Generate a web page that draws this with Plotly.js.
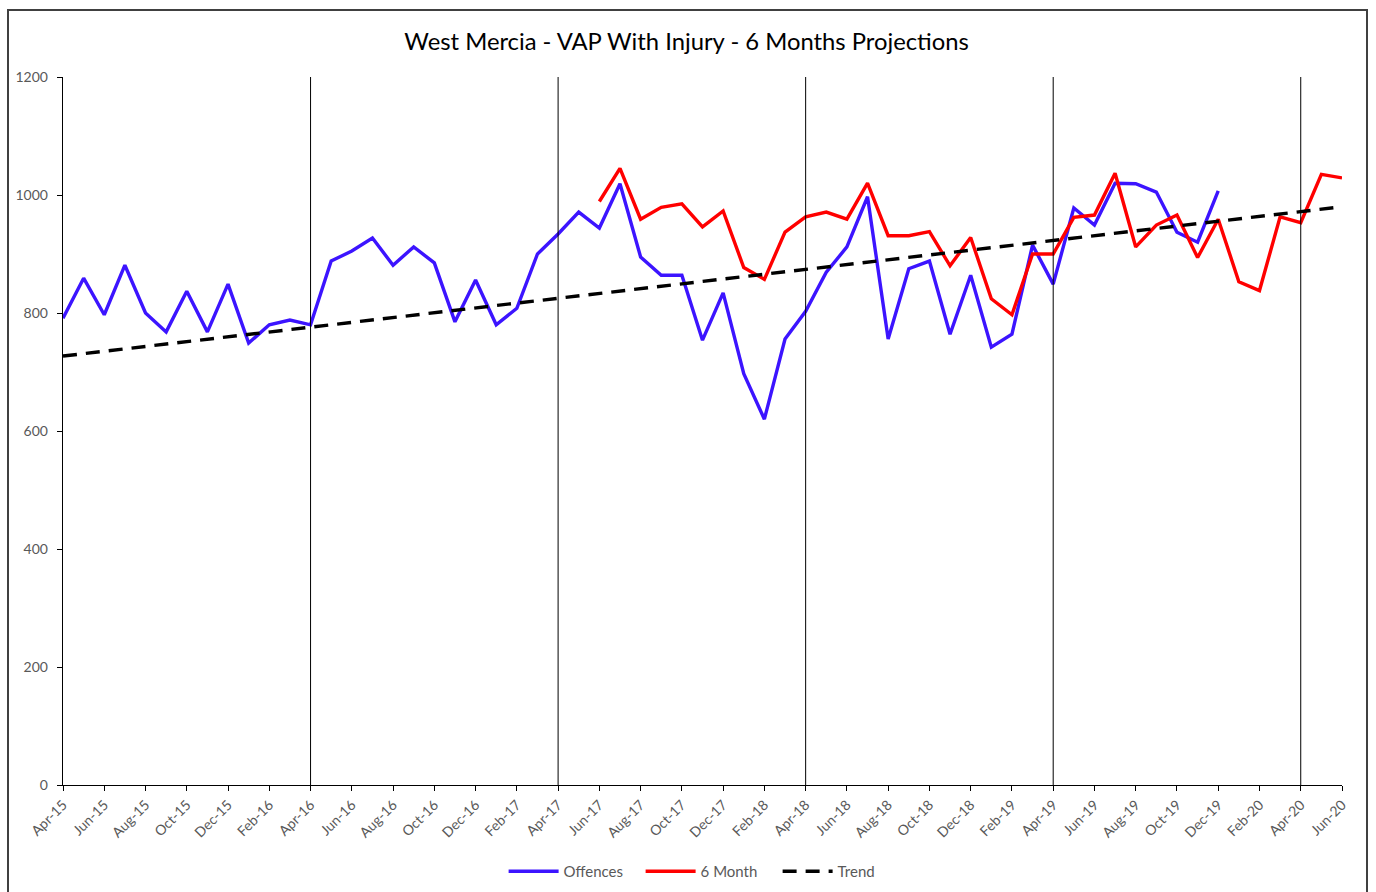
<!DOCTYPE html>
<html>
<head>
<meta charset="utf-8">
<script src="https://cdn.plot.ly/plotly-3.0.1.min.js"></script>
<style>
html,body{margin:0;padding:0;background:#fff;}
#chart{width:1376px;height:892px;}
#frame{position:absolute;left:7px;top:9px;width:1361px;height:900px;border:2px solid #404040;pointer-events:none;box-sizing:border-box;}
</style>
</head>
<body>
<div id="chart"></div>
<div id="frame"></div>
<script>
const months = [
 "Apr-15","May-15","Jun-15","Jul-15","Aug-15","Sep-15","Oct-15","Nov-15","Dec-15","Jan-16","Feb-16","Mar-16",
 "Apr-16","May-16","Jun-16","Jul-16","Aug-16","Sep-16","Oct-16","Nov-16","Dec-16","Jan-17","Feb-17","Mar-17",
 "Apr-17","May-17","Jun-17","Jul-17","Aug-17","Sep-17","Oct-17","Nov-17","Dec-17","Jan-18","Feb-18","Mar-18",
 "Apr-18","May-18","Jun-18","Jul-18","Aug-18","Sep-18","Oct-18","Nov-18","Dec-18","Jan-19","Feb-19","Mar-19",
 "Apr-19","May-19","Jun-19","Jul-19","Aug-19","Sep-19","Oct-19","Nov-19","Dec-19","Jan-20","Feb-20","Mar-20",
 "Apr-20","May-20","Jun-20"
];
const offences = [
 791,859,797,881,800,768,837,768,849,749,780,788,
 780,888,905,927,881,912,885,785,856,780,808,900,
 934,971,944,1019,895,864,864,754,834,697,620,756,
 803,869,912,997,756,875,888,764,864,742,764,915,
 849,978,949,1020,1019,1005,937,920,1007
];
const sixMonthStart = "Jun-17";
const sixMonth = [
 989,1045,959,979,985,946,973,877,857,937,
 963,971,959,1020,931,931,938,880,928,824,797,900,
 900,962,966,1037,912,949,966,894,959,853,838,963,
 953,1035,1029
];
const trendMonths = ["Apr-15","Jun-20"];
const trendValues = [727, 980];
const tickLabels = months.filter((m,i)=>i%2===0);
const yearDividers = ["Apr-16","Apr-17","Apr-18","Apr-19","Apr-20"];

const s0 = months.indexOf(sixMonthStart);
const sixMonthX = months.slice(s0, s0 + sixMonth.length);

const traces = [
 {x: months.slice(0, offences.length), y: offences, type:'scatter', mode:'lines', name:'Offences',
  line:{color:'#3C14FF', width:3.4}},
 {x: sixMonthX, y: sixMonth, type:'scatter', mode:'lines', name:'6 Month',
  line:{color:'#FF0000', width:3.4}},
 {x: trendMonths, y: trendValues, type:'scatter', mode:'lines', name:'Trend',
  line:{color:'#000000', width:3.4, dash:'14px,9px'}}
];

const shapes = yearDividers.map(m => ({
 type:'line', xref:'x', yref:'y', x0: months.indexOf(m), x1: months.indexOf(m), y0:0, y1:1200,
 line:{color:'#000', width:1}
}));

const layout = {
 width:1376, height:892,
 margin:{l:63, r:34, t:77, b:107},
 paper_bgcolor:'#fff', plot_bgcolor:'#fff',
 font:{family:'Lato, "Open Sans", sans-serif', color:'#595959', size:14},
 title:{text:'West Mercia - VAP With Injury - 6 Months Projections', font:{size:23.8, color:'#000', family:'Lato, sans-serif'},
        x:0.499, xanchor:'center', xref:'container', y:0.953, yanchor:'middle', yref:'container'},
 showlegend:true,
 legend:{orientation:'h', xref:'container', yref:'container', x:0.366, xanchor:'left', y:0.023, yanchor:'middle',
         font:{size:15, color:'#595959'}, itemwidth:50, entrywidth:72, entrywidthmode:'pixels', traceorder:'normal'},
 xaxis:{type:'category', categoryorder:'array', categoryarray:months, range:[0, months.length-1],
        tickmode:'array', tickvals:tickLabels, ticktext:tickLabels, tickangle:-45,
        ticks:'outside', ticklen:5, tickcolor:'#000', showline:true, linecolor:'#000', linewidth:1.3,
        showgrid:false, zeroline:false, tickfont:{size:14, color:'#595959'}},
 yaxis:{range:[0,1200], tickvals:[0,200,400,600,800,1000,1200], ticks:'outside', ticklen:5, tickcolor:'#000',
        ticklabelstandoff:6,
        showline:true, linecolor:'#000', linewidth:1.3, showgrid:false, zeroline:false,
        tickfont:{size:14, color:'#595959'}},
 shapes: shapes
};

Plotly.newPlot('chart', traces, layout, {displayModeBar:false, staticPlot:true});
</script>
</body>
</html>
